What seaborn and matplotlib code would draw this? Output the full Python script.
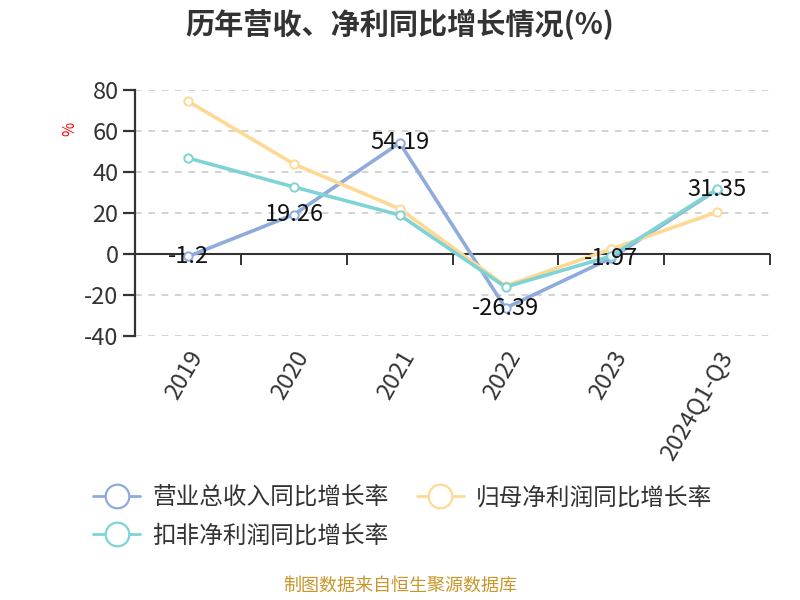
import pandas as pd
import numpy as np
import matplotlib
matplotlib.use("Agg")
import matplotlib.pyplot as plt
import seaborn as sns

# data
years = ["2019", "2020", "2021", "2022", "2023", "2024Q1-Q3"]
revenue_growth = [-1.2, 19.26, 54.19, -26.39, -1.97, 31.35]
netprofit_growth = [74.5, 43.9, 22.0, -15.6, 2.4, 20.5]
deducted_growth = [46.8, 32.7, 19.0, -16.1, -1.0, 31.6]
series_names = ["营业总收入同比增长率", "归母净利润同比增长率", "扣非净利润同比增长率"]
colors = ["#8EABDB", "#FDD995", "#7FD3D4"]

sns.set_style("white")
plt.rcParams['font.family'] = ['Noto Sans CJK SC', 'DejaVu Sans']
plt.rcParams['axes.unicode_minus'] = False

# long format for seaborn
rows = []
for name, vals in zip(series_names, [revenue_growth, netprofit_growth, deducted_growth]):
    for i, v in enumerate(vals):
        rows.append({"x": i, "value": v, "series": name})
df = pd.DataFrame(rows)

fig = plt.figure(figsize=(8, 6), dpi=100)
ax = fig.add_axes([0.169, 0.44, 0.7935, 0.41])

# zero line (category axis) under the data
ax.axhline(0, color="#333333", linewidth=1.5, zorder=1.5)

sns.lineplot(data=df, x="x", y="value", hue="series", palette=colors,
             linewidth=2.6, marker="o", markersize=6, markerfacecolor="white",
             markeredgewidth=1.4, legend=False, ax=ax, zorder=3)
# marker edges in line colour
for line, c in zip(ax.lines[1:], colors):
    line.set_markeredgecolor(c)

ax.set_xlim(-0.5, len(years) - 0.5)
ax.set_ylim(-40, 80)
ax.set_yticks(np.arange(-40, 81, 20))
ax.yaxis.grid(True, linestyle=(0, (4, 4)), color="#cccccc", linewidth=1.2)
ax.set_axisbelow(True)

ax.set_xticks(range(len(years)))
ax.set_xticklabels(years, rotation=60, ha="right", rotation_mode="anchor", fontsize=17, color="#333333")
ax.set_xlabel("")
ax.tick_params(axis="x", length=0, pad=8)
ax.tick_params(axis="y", length=9, width=1.6, colors="#333333", labelsize=17, direction="out", left=True, pad=3)

for s in ["top", "right", "bottom"]:
    ax.spines[s].set_visible(False)
ax.spines["left"].set_color("#333333")
ax.spines["left"].set_linewidth(1.6)

# ticks at band boundaries on the zero line
zero_frac = (0 - (-40)) / 120
sec = ax.secondary_xaxis(zero_frac)
sec.set_xticks(np.arange(-0.5, len(years), 1.0))
sec.set_xticklabels([])
sec.tick_params(length=8, width=1.4, color="#333333", direction="out")
sec.spines["bottom"].set_visible(False)

# value labels on the revenue series
for i, v in enumerate(revenue_growth):
    ax.text(i, v, f"{v:g}", ha="center", va="center", fontsize=17, color="#111111", zorder=4)

ax.set_ylabel("%", color="red", fontsize=11)
ax.yaxis.set_label_coords(-0.09, 0.84)

fig.suptitle("历年营收、净利同比增长情况(%)", x=0.5, y=0.985, fontsize=21, fontweight="bold", color="#333333")

handles = [plt.Line2D([], [], color=c, linewidth=2, marker="o", markersize=17,
                      markerfacecolor="white", markeredgewidth=1.6) for c in colors]
order = [0, 2, 1]  # legend fills column-wise; this gives rows: rev | net, ded
fig.legend([handles[i] for i in order], [series_names[i] for i in order],
           loc="upper left", bbox_to_anchor=(0.09, 0.225), ncol=2,
           frameon=False, fontsize=17, handlelength=2.0, handletextpad=0.5, columnspacing=1.2,
           labelspacing=0.65, labelcolor="#333333")

fig.text(0.5, 0.015, "制图数据来自恒生聚源数据库", ha="center", fontsize=13, color="#C8962A")

plt.savefig("out.png", dpi=100)
